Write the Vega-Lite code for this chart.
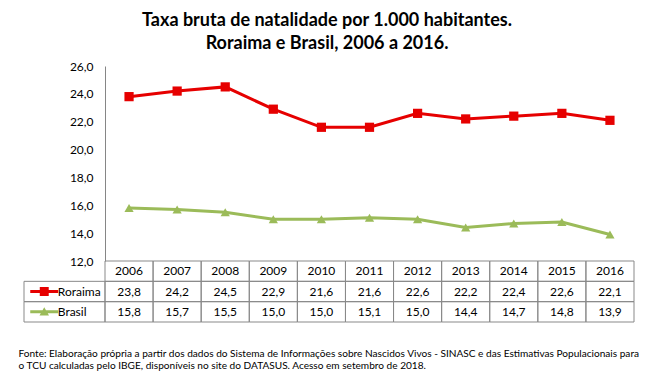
{
  "$schema": "https://vega.github.io/schema/vega-lite/v6.json",
  "padding": {"left": 18, "top": 12, "right": 0, "bottom": 0},
  "background": "white",
  "datasets": {
    "d": [
      {"ano": "2006", "serie": "Roraima", "valor": 23.8},
      {"ano": "2007", "serie": "Roraima", "valor": 24.2},
      {"ano": "2008", "serie": "Roraima", "valor": 24.5},
      {"ano": "2009", "serie": "Roraima", "valor": 22.9},
      {"ano": "2010", "serie": "Roraima", "valor": 21.6},
      {"ano": "2011", "serie": "Roraima", "valor": 21.6},
      {"ano": "2012", "serie": "Roraima", "valor": 22.6},
      {"ano": "2013", "serie": "Roraima", "valor": 22.2},
      {"ano": "2014", "serie": "Roraima", "valor": 22.4},
      {"ano": "2015", "serie": "Roraima", "valor": 22.6},
      {"ano": "2016", "serie": "Roraima", "valor": 22.1},
      {"ano": "2006", "serie": "Brasil", "valor": 15.8},
      {"ano": "2007", "serie": "Brasil", "valor": 15.7},
      {"ano": "2008", "serie": "Brasil", "valor": 15.5},
      {"ano": "2009", "serie": "Brasil", "valor": 15.0},
      {"ano": "2010", "serie": "Brasil", "valor": 15.0},
      {"ano": "2011", "serie": "Brasil", "valor": 15.1},
      {"ano": "2012", "serie": "Brasil", "valor": 15.0},
      {"ano": "2013", "serie": "Brasil", "valor": 14.4},
      {"ano": "2014", "serie": "Brasil", "valor": 14.7},
      {"ano": "2015", "serie": "Brasil", "valor": 14.8},
      {"ano": "2016", "serie": "Brasil", "valor": 13.9}
    ]
  },
  "title": {
    "text": ["Taxa bruta de natalidade por 1.000 habitantes.", "Roraima e Brasil, 2006 a 2016."],
    "font": "Lato", "fontSize": 18, "fontWeight": "bold", "lineHeight": 23,
    "anchor": "middle", "offset": 7, "color": "black", "dx": -2
  },
  "columns": 2,
  "spacing": 0,
  "bounds": "flush",
  "align": "each",
  "resolve": {"scale": {"shape": "independent", "color": "independent"}},
  "concat": [
    {
      "width": 81, "height": 195,
      "data": {"values": []},
      "mark": {"type": "text"},
      "encoding": {}
    },
    {
      "width": 529, "height": 195,
      "data": {"name": "d"},
      "encoding": {
        "x": {"field": "ano", "type": "ordinal", "scale": {"type": "point", "padding": 0.5}, "axis": null},
        "y": {
          "field": "valor", "type": "quantitative",
          "scale": {"domain": [12, 26], "nice": false, "zero": false},
          "axis": {
            "values": [12, 14, 16, 18, 20, 22, 24, 26], "format": ".1f", "ticks": false, "grid": false,
            "domainColor": "#868686", "labelFont": "Lato", "labelFontSize": 12, "labelColor": "black",
            "labelPadding": 12, "title": null
          }
        },
        "color": {"field": "serie", "type": "nominal", "scale": {"domain": ["Roraima", "Brasil"], "range": ["#E60000", "#9BBB59"]}, "legend": null}
      },
      "layer": [
        {"mark": {"type": "line", "strokeWidth": 3}},
        {
          "mark": {"type": "point", "filled": true, "opacity": 1, "size": 85},
          "encoding": {
            "shape": {"field": "serie", "type": "nominal", "scale": {"domain": ["Roraima", "Brasil"], "range": ["square", "triangle-up"]}, "legend": null}
          }
        }
      ]
    },
    {
      "width": 81, "height": 61,
      "title": {
        "text": [
          "Fonte: Elaboração própria a partir dos dados do Sistema de Informações sobre Nascidos Vivos - SINASC e das Estimativas Populacionais para",
          "o TCU calculadas pelo IBGE, disponíveis no site do DATASUS. Acesso em setembro de 2018."
        ],
        "orient": "bottom", "anchor": "start", "font": "Lato", "fontSize": 10.1, "fontWeight": "normal",
        "lineHeight": 12.5, "offset": 26, "dx": -5, "color": "black"
      },
      "data": {"values": [{"serie": "Roraima"}, {"serie": "Brasil"}]},
      "encoding": {
        "y": {"field": "serie", "type": "nominal", "scale": {"type": "band", "domain": ["Ano", "Roraima", "Brasil"], "paddingInner": 0, "paddingOuter": 0}, "axis": null}
      },
      "layer": [
        {"mark": {"type": "rect", "fill": "transparent", "stroke": "#898989", "strokeWidth": 1}},
        {
          "mark": {"type": "point", "filled": true, "opacity": 1, "size": 784},
          "encoding": {
            "x": {"datum": "sym", "type": "nominal", "scale": {"type": "band", "domain": ["sym", "lab"], "paddingInner": 0, "paddingOuter": 0}, "axis": null},
            "shape": {"field": "serie", "type": "nominal", "scale": {"domain": ["Roraima", "Brasil"], "range": ["M-1,-0.107L1,-0.107L1,0.107L-1,0.107Z M-0.32,-0.32L0.32,-0.32L0.32,0.32L-0.32,0.32Z", "M-1,-0.107L1,-0.107L1,0.107L-1,0.107Z M0,-0.32L0.34,0.27L-0.34,0.27Z"]}, "legend": null},
            "color": {"field": "serie", "type": "nominal", "scale": {"domain": ["Roraima", "Brasil"], "range": ["#E60000", "#9BBB59"]}, "legend": null}
          }
        },
        {
          "mark": {"type": "text", "align": "left", "dx": -27, "font": "Lato", "fontSize": 12, "color": "black"},
          "encoding": {
            "x": {"datum": "lab", "type": "nominal", "scale": {"type": "band", "domain": ["sym", "lab"], "paddingInner": 0, "paddingOuter": 0}, "axis": null},
            "text": {"field": "serie"}
          }
        }
      ]
    },
    {
      "width": 529, "height": 61,
      "data": {"name": "d"},
      "encoding": {
        "x": {"field": "ano", "type": "ordinal", "scale": {"type": "band", "paddingInner": 0, "paddingOuter": 0}, "axis": null}
      },
      "layer": [
        {
          "mark": {"type": "rect", "fill": "transparent", "stroke": "#898989", "strokeWidth": 1},
          "encoding": {
            "y": {"field": "serie", "type": "nominal", "scale": {"type": "band", "domain": ["Ano", "Roraima", "Brasil"], "paddingInner": 0, "paddingOuter": 0}, "axis": null}
          }
        },
        {
          "transform": [{"filter": "datum.serie == 'Roraima'"}],
          "mark": {"type": "rect", "fill": "transparent", "stroke": "#898989", "strokeWidth": 1},
          "encoding": {
            "y": {"datum": "Ano", "type": "nominal", "scale": {"type": "band", "domain": ["Ano", "Roraima", "Brasil"], "paddingInner": 0, "paddingOuter": 0}, "axis": null}
          }
        },
        {
          "transform": [{"filter": "datum.serie == 'Roraima'"}],
          "mark": {"type": "text", "font": "Lato", "fontSize": 12, "color": "black"},
          "encoding": {
            "y": {"datum": "Ano", "type": "nominal", "axis": null},
            "text": {"field": "ano"}
          }
        },
        {
          "mark": {"type": "text", "font": "Lato", "fontSize": 12, "color": "black"},
          "encoding": {
            "y": {"field": "serie", "type": "nominal", "axis": null},
            "text": {"field": "valor", "type": "quantitative", "format": ".1f"}
          }
        }
      ]
    }
  ],
  "config": {
    "view": {"stroke": null},
    "locale": {"number": {"decimal": ",", "thousands": ".", "grouping": [3], "currency": ["R$", ""]}}
  }
}
